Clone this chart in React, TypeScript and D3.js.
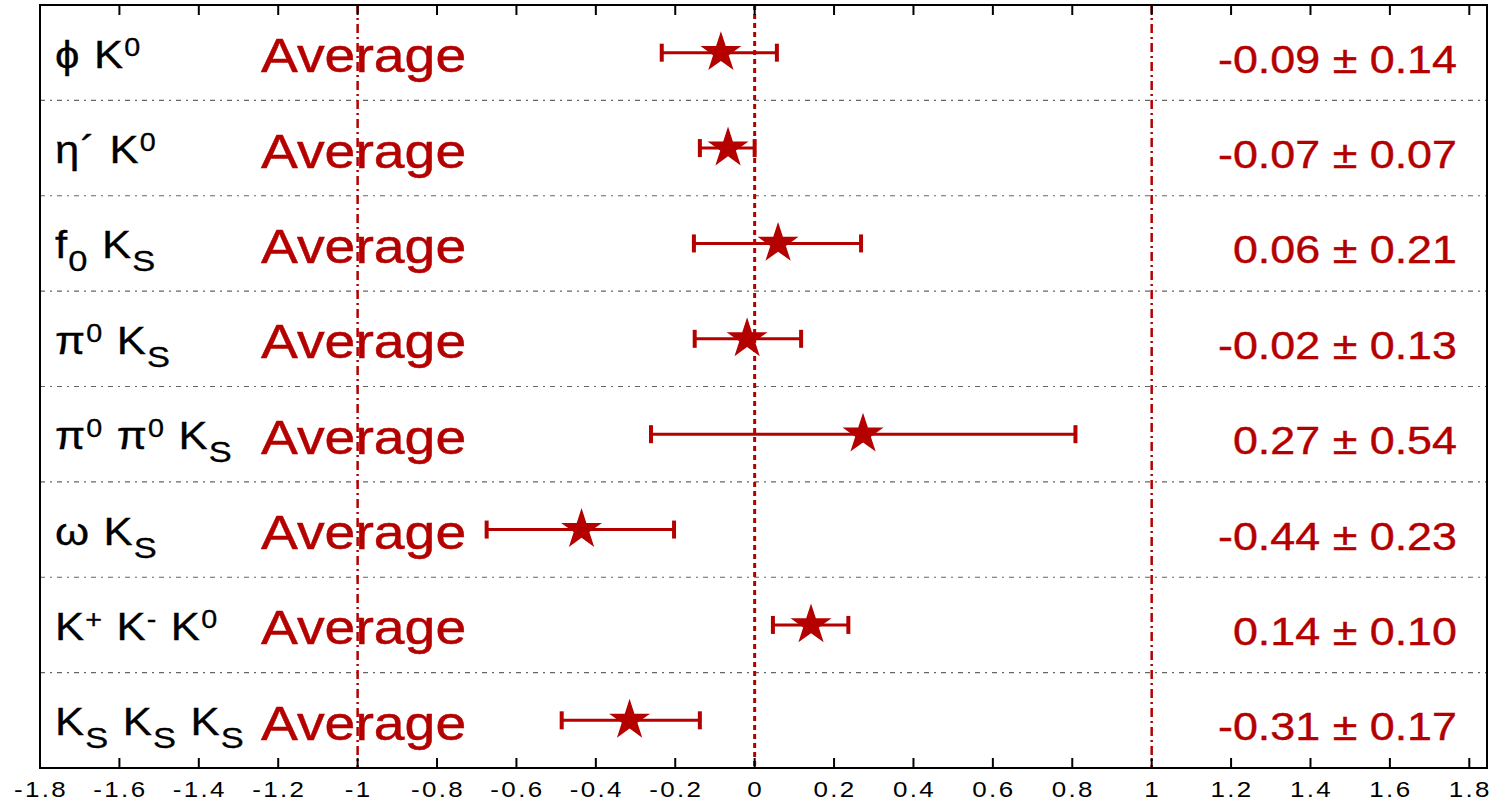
import React from "react";
import * as d3 from "d3";

const labels = [
  "ϕ K^{0}",
  "η´ K^{0}",
  "f_{0} K_{S}",
  "π^{0} K_{S}",
  "π^{0} π^{0} K_{S}",
  "ω K_{S}",
  "K^{+} K^{-} K^{0}",
  "K_{S} K_{S} K_{S}",
];
const centers = [-0.085, -0.067, 0.059, -0.019, 0.273, -0.436, 0.142, -0.315];
const lows = [-0.234, -0.138, -0.153, -0.151, -0.261, -0.675, 0.046, -0.486];
const highs = [0.056, 0.0, 0.268, 0.117, 0.808, -0.203, 0.236, -0.138];
const valueTexts = [
  "-0.09 ± 0.14",
  "-0.07 ± 0.07",
  "0.06 ± 0.21",
  "-0.02 ± 0.13",
  "0.27 ± 0.54",
  "-0.44 ± 0.23",
  "0.14 ± 0.10",
  "-0.31 ± 0.17",
];
const ticks = [-1.8, -1.6, -1.4, -1.2, -1, -0.8, -0.6, -0.4, -0.2, 0, 0.2, 0.4, 0.6, 0.8, 1, 1.2, 1.4, 1.6, 1.8];

const RED = "#b50000";
const FONT = "'Liberation Sans', Arial, Helvetica, sans-serif";

function parseLabel(s: string) {
  const parts: { t: string; k: "n" | "sup" | "sub" }[] = [];
  const re = /(\^\{([^}]*)\})|(_\{([^}]*)\})|([^_^]+)/g;
  let m;
  while ((m = re.exec(s))) {
    if (m[2] !== undefined) parts.push({ t: m[2], k: "sup" });
    else if (m[4] !== undefined) parts.push({ t: m[4], k: "sub" });
    else parts.push({ t: m[5], k: "n" });
  }
  return parts;
}

const OFFS = { n: 0, sup: -12, sub: 13 };
const SIZES = { n: 38, sup: 25, sub: 30 };

export default function App() {
  const W = 1495, H = 805;
  const left = 40, right = 1487, top = 5, bottom = 768;
  const x = d3.scaleLinear().domain([-1.8, 1.8]).range([40, 1469.3]);
  const y = d3.scaleBand<number>().domain(d3.range(labels.length)).range([top, bottom]);
  const bw = y.bandwidth();
  const star = d3.symbol().type(d3.symbolStar).size(520)();
  const tickLS = 2;

  return (
    <svg width={W} height={H} style={{ position: "absolute", left: 0, top: 0, background: "#fff" }} fontFamily={FONT}>
      <rect x={0} y={0} width={W} height={H} fill="#fff" />
      {d3.range(1, labels.length).map((i) => (
        <line key={"s" + i} x1={left} x2={right} y1={y(i)!} y2={y(i)!} stroke="#666" strokeWidth={1.2} strokeDasharray="5,5,2,5" />
      ))}
      <line x1={x(0)} x2={x(0)} y1={top} y2={bottom} stroke={RED} strokeWidth={3} strokeDasharray="5,4" />
      <line x1={x(-1)} x2={x(-1)} y1={top} y2={bottom} stroke={RED} strokeWidth={2.5} strokeDasharray="9,4,2,4" />
      <line x1={x(1)} x2={x(1)} y1={top} y2={bottom} stroke={RED} strokeWidth={2.5} strokeDasharray="9,4,2,4" />
      <rect x={left} y={top} width={right - left} height={bottom - top} fill="none" stroke="#000" strokeWidth={2} />
      {ticks.map((t) => (
        <g key={"t" + t}>
          <line x1={x(t)} x2={x(t)} y1={bottom} y2={bottom - 10} stroke="#000" strokeWidth={2} />
          <line x1={x(t)} x2={x(t)} y1={top} y2={top + 10} stroke="#000" strokeWidth={2} />
          <text transform={`translate(${x(t) + tickLS / 2},797) scale(1.18,1)`} textAnchor="middle" fontSize={22} letterSpacing={tickLS} fill="#000">
            {String(t)}
          </text>
        </g>
      ))}
      {labels.map((lab, i) => {
        const cy = y(i)! + bw / 2;
        const parts = parseLabel(lab);
        let cur = 0;
        const spans = parts.map((p, j) => {
          const dy = OFFS[p.k] - cur;
          cur = OFFS[p.k];
          return (
            <tspan key={j} fontSize={SIZES[p.k]} dy={dy}>{p.t}</tspan>
          );
        });
        return (
          <g key={"r" + i}>
            <text transform={`translate(55,${cy + 15}) scale(1.15,1)`} fontSize={38} letterSpacing={1} fill="#000" stroke="#000" strokeWidth={0.3}>
              {spans}
            </text>
            <text transform={`translate(261,${cy + 19.5}) scale(1.13,1)`} fontSize={49} fill={RED} stroke={RED} strokeWidth={0.5}>Average</text>
            <text transform={`translate(1457,${cy + 20}) scale(1.15,1)`} fontSize={39} fill={RED} stroke={RED} strokeWidth={0.4} textAnchor="end">{valueTexts[i]}</text>
            <line x1={x(lows[i])} x2={x(highs[i])} y1={cy} y2={cy} stroke={RED} strokeWidth={3} />
            <line x1={x(lows[i])} x2={x(lows[i])} y1={cy - 9} y2={cy + 9} stroke={RED} strokeWidth={4} />
            <line x1={x(highs[i])} x2={x(highs[i])} y1={cy - 9} y2={cy + 9} stroke={RED} strokeWidth={4} />
            <path d={star!} transform={`translate(${x(centers[i])},${cy})`} fill={RED} />
          </g>
        );
      })}
    </svg>
  );
}
